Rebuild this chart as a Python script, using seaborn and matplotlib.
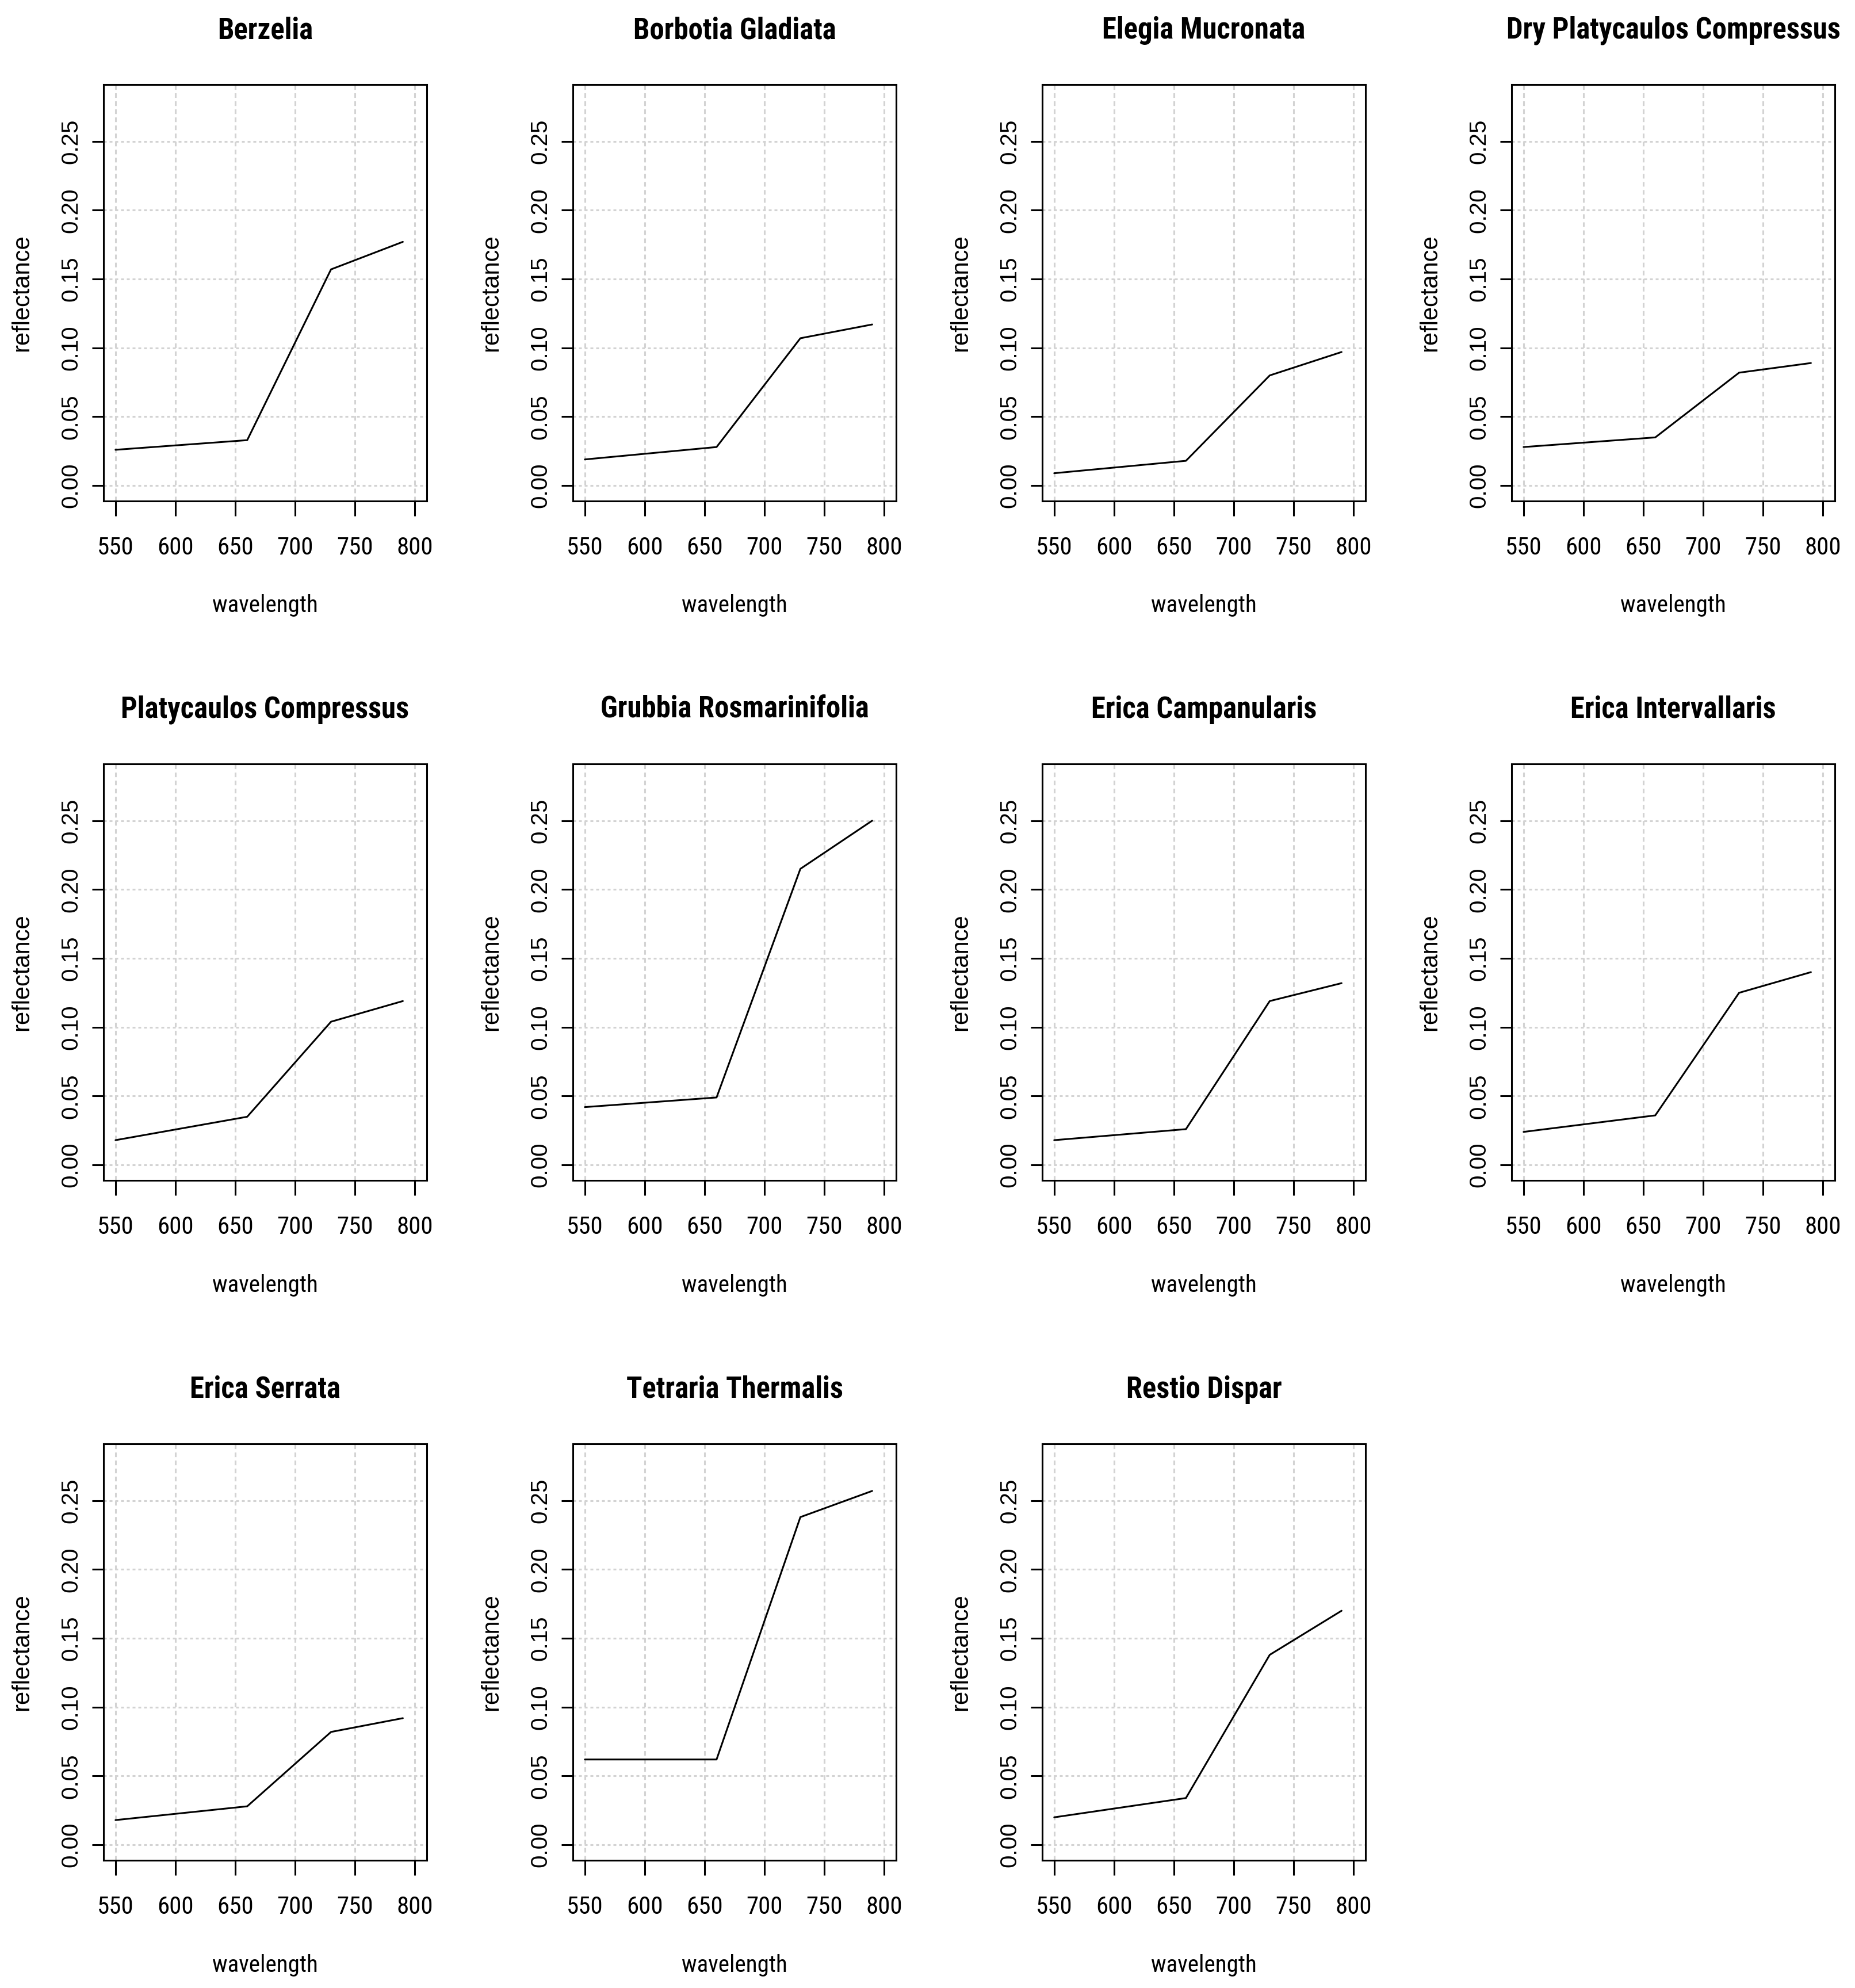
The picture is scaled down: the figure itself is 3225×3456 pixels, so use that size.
import matplotlib
matplotlib.use("Agg")
import matplotlib.pyplot as plt
from matplotlib import font_manager
import pandas as pd
import seaborn as sns

# ------------------ DATA ------------------
wavelength = [550, 660, 730, 790]

berzelia = [0.026, 0.033, 0.157, 0.177]
borbotia_gladiata = [0.019, 0.028, 0.107, 0.117]
elegia_mucronata = [0.009, 0.018, 0.080, 0.097]
dry_platycaulos = [0.028, 0.035, 0.082, 0.089]
platycaulos_compressus = [0.018, 0.035, 0.104, 0.119]
grubbia_rosmarinifolia = [0.042, 0.049, 0.215, 0.250]
erica_campanularis = [0.018, 0.026, 0.119, 0.132]
erica_intervallaris = [0.024, 0.036, 0.125, 0.140]
erica_serrata = [0.018, 0.028, 0.082, 0.092]
tetraria_thermalis = [0.062, 0.062, 0.238, 0.257]
restio_dispar = [0.020, 0.034, 0.138, 0.170]

titles = ["Berzelia", "Borbotia Gladiata", "Elegia Mucronata",
          "Dry Platycaulos Compressus", "Platycaulos Compressus",
          "Grubbia Rosmarinifolia", "Erica Campanularis",
          "Erica Intervallaris", "Erica Serrata", "Tetraria Thermalis",
          "Restio Dispar"]
series = [berzelia, borbotia_gladiata, elegia_mucronata, dry_platycaulos,
          platycaulos_compressus, grubbia_rosmarinifolia, erica_campanularis,
          erica_intervallaris, erica_serrata, tetraria_thermalis, restio_dispar]

x_ticks = [550, 600, 650, 700, 750, 800]
y_ticks = [0.00, 0.05, 0.10, 0.15, 0.20, 0.25]


def pick_font(candidates):
    for name in candidates:
        try:
            font_manager.findfont(name, fallback_to_default=False)
            return name
        except ValueError:
            pass
    return "DejaVu Sans"


# horizontal text in the reference is narrow, rotated text is normal width
narrow = pick_font(["Liberation Sans Narrow", "Roboto Condensed", "Archivo Narrow", "Liberation Sans"])
regular = pick_font(["Liberation Sans", "DejaVu Sans"])

sns.set_style("white")
plt.rcParams["font.family"] = [regular, "DejaVu Sans"]
plt.rcParams["lines.scale_dashes"] = False
plt.rcParams["text.color"] = "black"
plt.rcParams["axes.labelcolor"] = "black"

# ------------------ LAYOUT (pixels) ------------------
W, H = 3225, 3456
col_left = [180, 996, 1812, 2628]
row_top = [147, 1328, 2510]
ax_w, ax_h = 562, 724

fig = plt.figure(figsize=(W / 100, H / 100), dpi=100)
fig.patch.set_facecolor("white")

for i, (name, vals) in enumerate(zip(titles, series)):
    r, c = divmod(i, 4)
    ax = fig.add_axes([col_left[c] / W, 1 - (row_top[r] + ax_h) / H, ax_w / W, ax_h / H])
    df = pd.DataFrame({"wavelength": wavelength, "reflectance": vals})

    ax.set_xlim(540, 810)
    ax.set_ylim(-0.0112, 0.2912)
    ax.set_xticks(x_ticks)
    ax.set_yticks(y_ticks)
    ax.set_xticklabels([str(t) for t in x_ticks], family=[narrow, "DejaVu Sans"], fontsize=31)
    ax.set_yticklabels([f"{t:.2f}" for t in y_ticks], family=[regular, "DejaVu Sans"],
                       fontsize=29, rotation=90, va="center")

    # grid like R's grid(): light gray, dotted
    ax.xaxis.grid(True, color="#D3D3D3", lw=2.2, linestyle=(0, (5.8, 4.3)))
    ax.yaxis.grid(True, color="#D3D3D3", lw=2.2, linestyle=(0, (3.6, 3.6)))
    ax.set_axisbelow(True)

    sns.lineplot(data=df, x="wavelength", y="reflectance", ax=ax, color="black", lw=2.2)

    for s in ax.spines.values():
        s.set_visible(True)
        s.set_color("black")
        s.set_linewidth(2.2)
    ax.tick_params(axis="x", direction="out", length=18.7, width=2.2, pad=25,
                   bottom=True, colors="black")
    ax.tick_params(axis="y", direction="out", length=14.4, width=2.2, pad=13,
                   left=True, colors="black")

    ax.set_xlabel("wavelength", family=[narrow, "DejaVu Sans"], fontsize=29.5, va="center")
    ax.xaxis.set_label_coords(0.5, -182 / ax_h)
    ax.set_ylabel("reflectance", family=[regular, "DejaVu Sans"], fontsize=30, va="center")
    ax.yaxis.set_label_coords(-142 / ax_w, 0.5)

    ax.set_title(name, family=[narrow, "DejaVu Sans"], fontsize=36.5, fontweight="bold",
                 y=1 + 94 / ax_h, pad=0, va="center")

fig.savefig("out.png", dpi=100, facecolor="white")
